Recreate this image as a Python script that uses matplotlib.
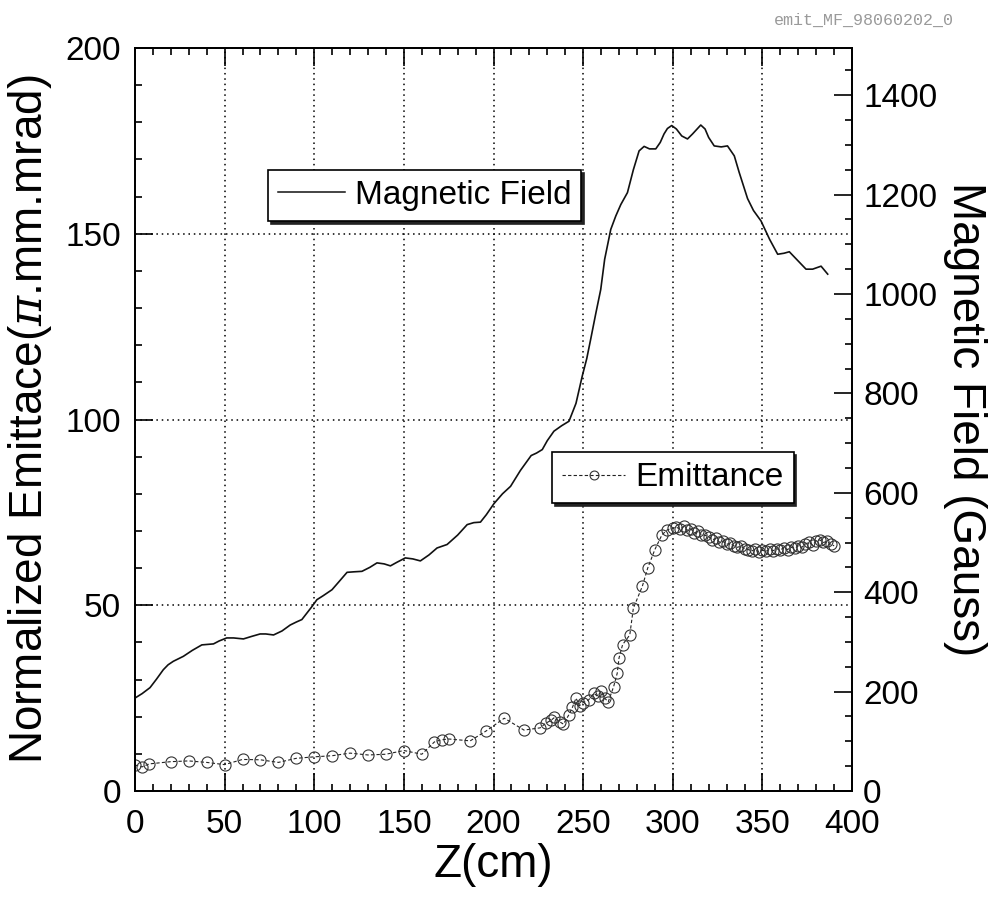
import matplotlib
matplotlib.use('Agg')
import matplotlib.pyplot as plt
from matplotlib.ticker import MultipleLocator
from matplotlib.lines import Line2D

plt.rcParams['font.family'] = ['Liberation Sans', 'DejaVu Sans']
plt.rcParams['mathtext.fontset'] = 'dejavuserif'

# magnetic field along the beam line (Gauss, right axis)
z_field = [0, 4, 8.4, 12, 15.8, 18.5, 21.4, 27, 32, 37.3, 43.8, 47, 51.2, 55,
           60.5, 65, 69.8, 73, 77.3, 82, 86.6, 90, 93.1, 98.7, 101.5, 105,
           109.9, 114, 118.3, 122, 126.6, 131, 135, 139, 142.5, 146, 150.8,
           155, 159.2, 164, 168.5, 174.1, 180, 185.3, 189, 192.7, 196, 200.2,
           205, 209.5, 215, 221, 224, 227.2, 230, 233.7, 238, 242.1, 246,
           249.5, 252, 254.2, 257, 259.8, 262, 265.4, 268.2, 271, 274.7, 278,
           281.2, 284, 287, 290.5, 293, 295.1, 297, 299.4, 302, 305, 308.2,
           311, 315.6, 318, 320, 323.1, 327, 330.5, 334.3, 337, 341.7, 345,
           349.2, 354, 358.5, 362, 365, 374.3, 378, 382.7, 386.4]
field = [187, 196, 208, 225, 244, 254, 261, 271, 283, 294, 296, 302, 308, 308,
         306, 311, 316, 316, 314, 322, 334, 340, 345, 371, 385, 393,
         405, 422, 440, 441, 442, 450, 459, 457, 453, 460, 469,
         467, 463, 475, 489, 496, 515, 536, 540, 541, 556, 578,
         598, 613, 645, 675, 680, 687, 705, 724, 735, 744, 780,
         835, 870, 909, 960, 1009, 1070, 1130, 1157, 1180, 1204, 1250,
         1288, 1297, 1292, 1292, 1305, 1322, 1333, 1339, 1332, 1318, 1312,
         1322, 1340, 1332, 1315, 1298, 1296, 1298, 1278, 1245, 1192, 1168,
         1147, 1110, 1080, 1082, 1085, 1050, 1050, 1056, 1040]

# normalized emittance (pi.mm.mrad, left axis)
z_emit = [0, 4, 8, 20, 30, 40, 50, 60, 70, 80, 90, 100, 110, 120, 130, 140,
          150, 160, 167, 171, 175, 187, 196, 206, 217, 226, 229, 232, 234,
          237, 239, 242, 244, 246, 248, 250, 253, 256, 258, 260, 262, 264,
          267, 269, 270, 272, 276, 278, 283, 286, 290, 294, 297, 300, 302,
          304, 306, 308, 310, 312, 314, 316, 318, 320, 322, 324, 326, 328,
          330, 332, 334, 336, 338, 340, 342, 344, 346, 348, 350, 352, 354,
          356, 358, 360, 362, 364, 366, 368, 370, 372, 374, 376, 378, 380,
          382, 384, 386, 388, 390]
emit = [7.0, 6.5, 7.3, 7.9, 8.1, 7.7, 7.1, 8.5, 8.4, 7.7, 8.8, 9.2, 9.5, 10.2,
        9.7, 9.9, 10.9, 9.9, 13.2, 13.8, 14.0, 13.5, 16.2, 19.6, 16.4, 17.0,
        18.2, 19.0, 19.8, 18.6, 18.0, 20.5, 22.5, 25.0, 23.0, 23.8, 24.5, 26.3,
        25.5, 26.8, 25.0, 24.0, 28.1, 31.7, 35.8, 39.4, 42.0, 49.2, 55.1, 60.0,
        65.0, 69.0, 70.3, 70.8, 71.0, 70.5, 71.2, 70.2, 70.6, 69.5, 69.9, 69.0,
        68.8, 68.5, 67.6, 68.0, 67.0, 67.2, 66.4, 66.7, 66.0, 65.6, 65.9, 65.2,
        65.0, 64.6, 65.1, 64.3, 64.8, 64.5, 65.1, 64.7, 65.2, 64.9, 65.5, 65.0,
        65.6, 65.3, 66.0, 65.6, 66.5, 66.9, 66.2, 67.3, 67.6, 66.9, 67.2, 66.4,
        66.0]

fig = plt.figure(figsize=(9.96, 9.09), dpi=100)
ax = fig.add_axes([0.1355, 0.1298, 0.72, 0.8174])
ax2 = ax.twinx()

emit_style = dict(color='#222222', lw=0.8, ls=(0, (3, 2)), marker='o',
                  ms=8, mfc='none', mec='#333333', mew=0.8)
ax.plot(z_emit, emit, **emit_style)
ax2.plot(z_field, field, color='#111111', lw=1.2, solid_joinstyle='round')

ax.set_xlim(0, 400)
ax.set_ylim(0, 200)
ax2.set_ylim(0, 1495)

ax.xaxis.set_major_locator(MultipleLocator(50))
ax.xaxis.set_minor_locator(MultipleLocator(10))
ax.yaxis.set_major_locator(MultipleLocator(50))
ax.yaxis.set_minor_locator(MultipleLocator(10))
ax2.yaxis.set_major_locator(MultipleLocator(200))
ax2.yaxis.set_minor_locator(MultipleLocator(50))

ax.tick_params(which='both', direction='in', top=True, right=False,
               labelsize=24, width=1.2, pad=10)
ax.tick_params(axis='x', which='major', pad=13)
ax.tick_params(which='major', length=13)
ax.tick_params(which='minor', length=5)
ax2.tick_params(which='both', direction='in', labelsize=24, width=1.2, pad=8)
ax2.tick_params(which='major', length=13)
ax2.tick_params(which='minor', length=5)

ax.grid(True, which='major', color='black', lw=1.1, ls=(0, (1, 2.5)))

for sp in list(ax.spines.values()) + list(ax2.spines.values()):
    sp.set_linewidth(1.3)

ax.set_xlabel('Z(cm)', fontsize=33, labelpad=2)
ax.set_ylabel(r'Normalized Emittace($\pi$.mm.mrad)', fontsize=33, labelpad=8)
ax2.set_ylabel('Magnetic Field (Gauss)', fontsize=33, rotation=270,
               labelpad=36)

shadow = {'color': '#222222', 'alpha': 1}
h_field = Line2D([], [], color='#111111', lw=1.1)
leg1 = ax2.legend([h_field], ['Magnetic Field'], loc='upper left',
                  bbox_to_anchor=(0.1855, 0.836), fontsize=24, frameon=True,
                  fancybox=False, shadow=shadow, framealpha=1,
                  edgecolor='black', handlelength=2.0, handletextpad=0.3,
                  borderpad=0.3, borderaxespad=0)
leg1.get_frame().set_linewidth(1.2)
ax2.add_artist(leg1)

h_emit = Line2D([], [], **emit_style)
leg2 = ax2.legend([h_emit], ['Emittance'], loc='upper left',
                  bbox_to_anchor=(0.5816, 0.456), fontsize=24, frameon=True,
                  fancybox=False, shadow=shadow, framealpha=1,
                  edgecolor='black', handlelength=1.9, handletextpad=0.3,
                  borderpad=0.3, borderaxespad=0, markerscale=0.8)
leg2.get_frame().set_linewidth(1.2)

fig.text(0.958, 0.978, 'emit_MF_98060202_0', fontsize=12, color='#9a9a9a',
         ha='right', va='center', family=['Liberation Mono', 'DejaVu Sans Mono'])

fig.savefig('out.png', dpi=100)
